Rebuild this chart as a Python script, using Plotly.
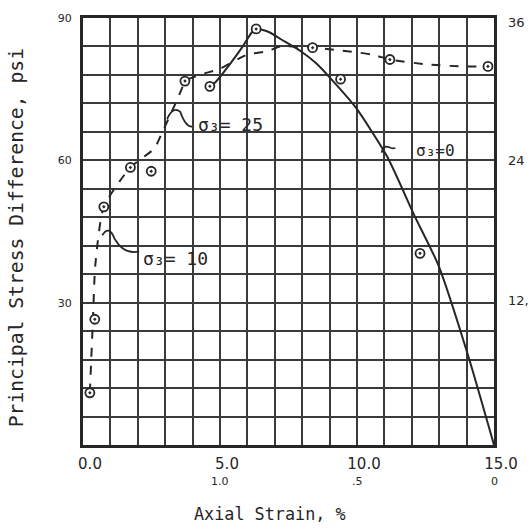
import plotly.graph_objects as go

# ---- data ----
# dashed curve (sigma3 = 10 / 25)
dash_x = [0.25, 0.36, 0.45, 0.76, 1.73, 2.6, 2.9, 3.25, 3.6, 3.72, 4.3, 4.95, 6.0, 6.75, 7.2, 8.38, 10.55, 11.2, 12.6, 13.8, 14.75]
dash_y = [11.0, 26.0, 38.0, 50.2, 58.5, 62.5, 66.0, 70.4, 75.0, 76.7, 78.1, 79.2, 82.3, 83.0, 84.0, 83.75, 82.3, 81.25, 80.2, 79.8, 79.8]
# solid curve (sigma3 = 0)
solid_x = [4.63, 4.84, 5.3, 5.8, 6.15, 6.32, 6.76, 7.37, 7.95, 8.5, 9.0, 9.94, 11.1, 12.1, 12.97, 14.06, 15.0]
solid_y = [75.6, 76.5, 79.8, 83.75, 86.9, 87.7, 87.1, 85.0, 83.0, 80.5, 77.5, 71.25, 60.8, 48.3, 37.9, 18.75, 0.0]
# measured points
pts_x = [0.25, 0.43, 0.76, 1.73, 2.49, 3.72, 4.63, 6.32, 8.38, 11.2, 14.78, 9.4, 12.3]
pts_y = [11.0, 26.5, 50.2, 58.5, 57.7, 76.7, 75.6, 87.7, 83.75, 81.25, 79.8, 77.1, 40.4]

x_tickvals = list(range(16))
x_ticktext = ["0.0", "", "", "", "", "5.0", "", "", "", "", "10.0", "", "", "", "", "15.0"]
y_tickvals = list(range(0, 91, 6))
y_ticktext = {30: "30", 60: "60", 90: "90"}
x_sec_labels = [(5, "1.0"), (10, ".5"), (15, "0")]
y_sec_labels = [(89, "36"), (60, "24"), (30.5, "12,")]

INK = "#262626"
GRID = "#3a3a3a"

fig = go.Figure()
fig.add_trace(go.Scatter(x=dash_x, y=dash_y, mode="lines",
                         line=dict(color=INK, width=2, dash="dash", shape="spline", smoothing=0.6),
                         hoverinfo="skip", showlegend=False))
fig.add_trace(go.Scatter(x=solid_x, y=solid_y, mode="lines",
                         line=dict(color=INK, width=2, shape="spline", smoothing=0.6),
                         hoverinfo="skip", showlegend=False))
fig.add_trace(go.Scatter(x=pts_x, y=pts_y, mode="markers",
                         marker=dict(symbol="circle-dot", size=9, color="white",
                                     line=dict(color=INK, width=1.8)),
                         showlegend=False))

# leader squiggles (annotation strokes)
leaders = [
    "M 3.07 68.75 Q 3.3 71.5 3.55 70.2 Q 3.75 67.0 3.98 67.1",
    "M 0.7 44.2 Q 0.95 46.5 1.15 43.5 Q 1.5 40.0 2.05 40.8",
    "M 10.9 61.6 Q 10.95 63.2 11.15 62.8 Q 11.3 62.4 11.4 62.6",
]
shapes = [dict(type="path", path=p, xref="x", yref="y",
               line=dict(color=INK, width=1.8)) for p in leaders]

hand = dict(family="DejaVu Sans Mono", size=18, color=INK)
annotations = [
    dict(x=4.12, y=67.6, xref="x", yref="y", text="σ₃= 25", showarrow=False,
         xanchor="left", yanchor="middle", font=hand),
    dict(x=2.12, y=39.4, xref="x", yref="y", text="σ₃= 10", showarrow=False,
         xanchor="left", yanchor="middle", font=hand),
    dict(x=12.07, y=62.1, xref="x", yref="y", text="σ₃=0", showarrow=False,
         xanchor="left", yanchor="middle", font=dict(family="DejaVu Sans Mono", size=16, color=INK)),
    dict(x=0.455, y=-0.162, xref="paper", yref="paper", text="Axial Strain, %",
         xanchor="center", yanchor="middle",
         showarrow=False, font=dict(family="DejaVu Sans Mono", size=16.8, color=INK)),
    dict(x=-0.161, y=0.486, xref="paper", yref="paper", text="Principal Stress Difference, psi",
         xanchor="center", yanchor="middle",
         showarrow=False, textangle=-90, font=dict(family="DejaVu Sans Mono", size=19.7, color=INK)),
]
for xv, t in x_sec_labels:
    annotations.append(dict(x=xv, y=-0.086, xref="x", yref="paper", text=t, showarrow=False,
                            xanchor="center", yanchor="middle",
                            font=dict(family="DejaVu Sans", size=11, color=INK)))
for yv, t in y_sec_labels:
    annotations.append(dict(x=1.029, y=yv / 90.0, xref="paper", yref="paper", text=t, showarrow=False,
                            xanchor="left", yanchor="middle",
                            font=dict(family="DejaVu Sans", size=13, color=INK)))

fig.update_layout(
    width=530, height=531,
    margin=dict(l=83, r=32, t=13, b=86),
    paper_bgcolor="white", plot_bgcolor="white",
    shapes=shapes, annotations=annotations,
    xaxis=dict(range=[0, 15], tickvals=x_tickvals, ticktext=x_ticktext,
               showgrid=True, gridcolor=GRID, gridwidth=2, zeroline=False,
               showline=True, linecolor=INK, linewidth=3, mirror=True,
               ticks="", ticklabelstandoff=3, ticklabelshift=7,
               tickfont=dict(family="DejaVu Sans", size=15, color=INK)),
    yaxis=dict(range=[0, 90], tickvals=y_tickvals,
               ticktext=[y_ticktext.get(v, "") for v in y_tickvals],
               showgrid=True, gridcolor=GRID, gridwidth=2, zeroline=False,
               showline=True, linecolor=INK, linewidth=3, mirror=True,
               ticks="", ticklabelstandoff=6,
               tickfont=dict(family="DejaVu Sans", size=11, color=INK)),
)

fig.write_html("out.html")
